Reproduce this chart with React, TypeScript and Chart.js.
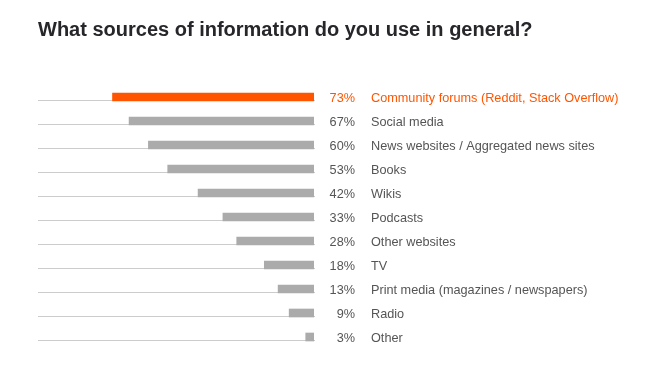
import React, { useEffect, useRef } from "react";
import { Chart, registerables } from "chart.js";

Chart.register(...registerables);

const titleText = "What sources of information do you use in general?";
const categories = [
  "Community forums (Reddit, Stack Overflow)",
  "Social media",
  "News websites / Aggregated news sites",
  "Books",
  "Wikis",
  "Podcasts",
  "Other websites",
  "TV",
  "Print media (magazines / newspapers)",
  "Radio",
  "Other",
];
const values = [73, 67, 60, 53, 42, 33, 28, 18, 13, 9, 3];
const highlightIndex = 0;

const ORANGE = "#ff5500";
const GRAY_BAR = "#ababab";
const LINE = "#cccccc";
const TEXT = "#555555";
const FONT = "'Liberation Sans', Arial, Helvetica, sans-serif";

const decorPlugin = {
  id: "decor",
  beforeDatasetsDraw(chart: any) {
    const { ctx, chartArea, scales } = chart;
    const y = scales.y;
    ctx.save();
    ctx.strokeStyle = LINE;
    ctx.lineWidth = 1;
    categories.forEach((_, i) => {
      const cy = y.getPixelForValue(i);
      const ly = Math.round(cy + 4) - 0.5;
      ctx.beginPath();
      ctx.moveTo(chartArea.left, ly);
      ctx.lineTo(chartArea.right + 1, ly);
      ctx.stroke();
    });
    ctx.restore();
  },
  afterDatasetsDraw(chart: any) {
    const { ctx, chartArea, scales } = chart;
    const y = scales.y;
    ctx.save();
    ctx.font = `12.7px ${FONT}`;
    ctx.textBaseline = "middle";
    categories.forEach((c, i) => {
      const cy = y.getPixelForValue(i) + 1;
      ctx.fillStyle = i === highlightIndex ? ORANGE : TEXT;
      ctx.textAlign = "right";
      ctx.fillText(values[i] + "%", chartArea.right + 41, cy);
      ctx.textAlign = "left";
      ctx.fillText(c, chartArea.right + 57, cy);
    });
    ctx.fillStyle = "#26262b";
    ctx.font = `bold 20px ${FONT}`;
    ctx.textAlign = "left";
    ctx.textBaseline = "alphabetic";
    ctx.fillText(titleText, 38, 36);
    ctx.restore();
  },
};

export default function App() {
  const ref = useRef<HTMLCanvasElement>(null);
  useEffect(() => {
    document.body.style.margin = "0";
    const chart = new Chart(ref.current!, {
      type: "bar",
      data: {
        labels: categories,
        datasets: [
          {
            data: values,
            backgroundColor: values.map((_, i) => (i === highlightIndex ? ORANGE : GRAY_BAR)),
            barThickness: 8,
            borderWidth: 0,
          },
        ],
      },
      options: {
        indexAxis: "y",
        animation: false,
        responsive: false,
        layout: { padding: { top: 85, left: 38, right: 343, bottom: 26 } },
        plugins: { legend: { display: false }, tooltip: { enabled: false }, title: { display: false } },
        scales: {
          x: { display: false, min: 0, max: 100, reverse: true },
          y: { display: false },
        },
      },
      plugins: [decorPlugin],
    });
    return () => chart.destroy();
  }, []);
  return (
    <div style={{ width: 657, height: 375, background: "#fff" }}>
      <canvas ref={ref} width={657} height={375} style={{ display: "block" }} />
    </div>
  );
}
